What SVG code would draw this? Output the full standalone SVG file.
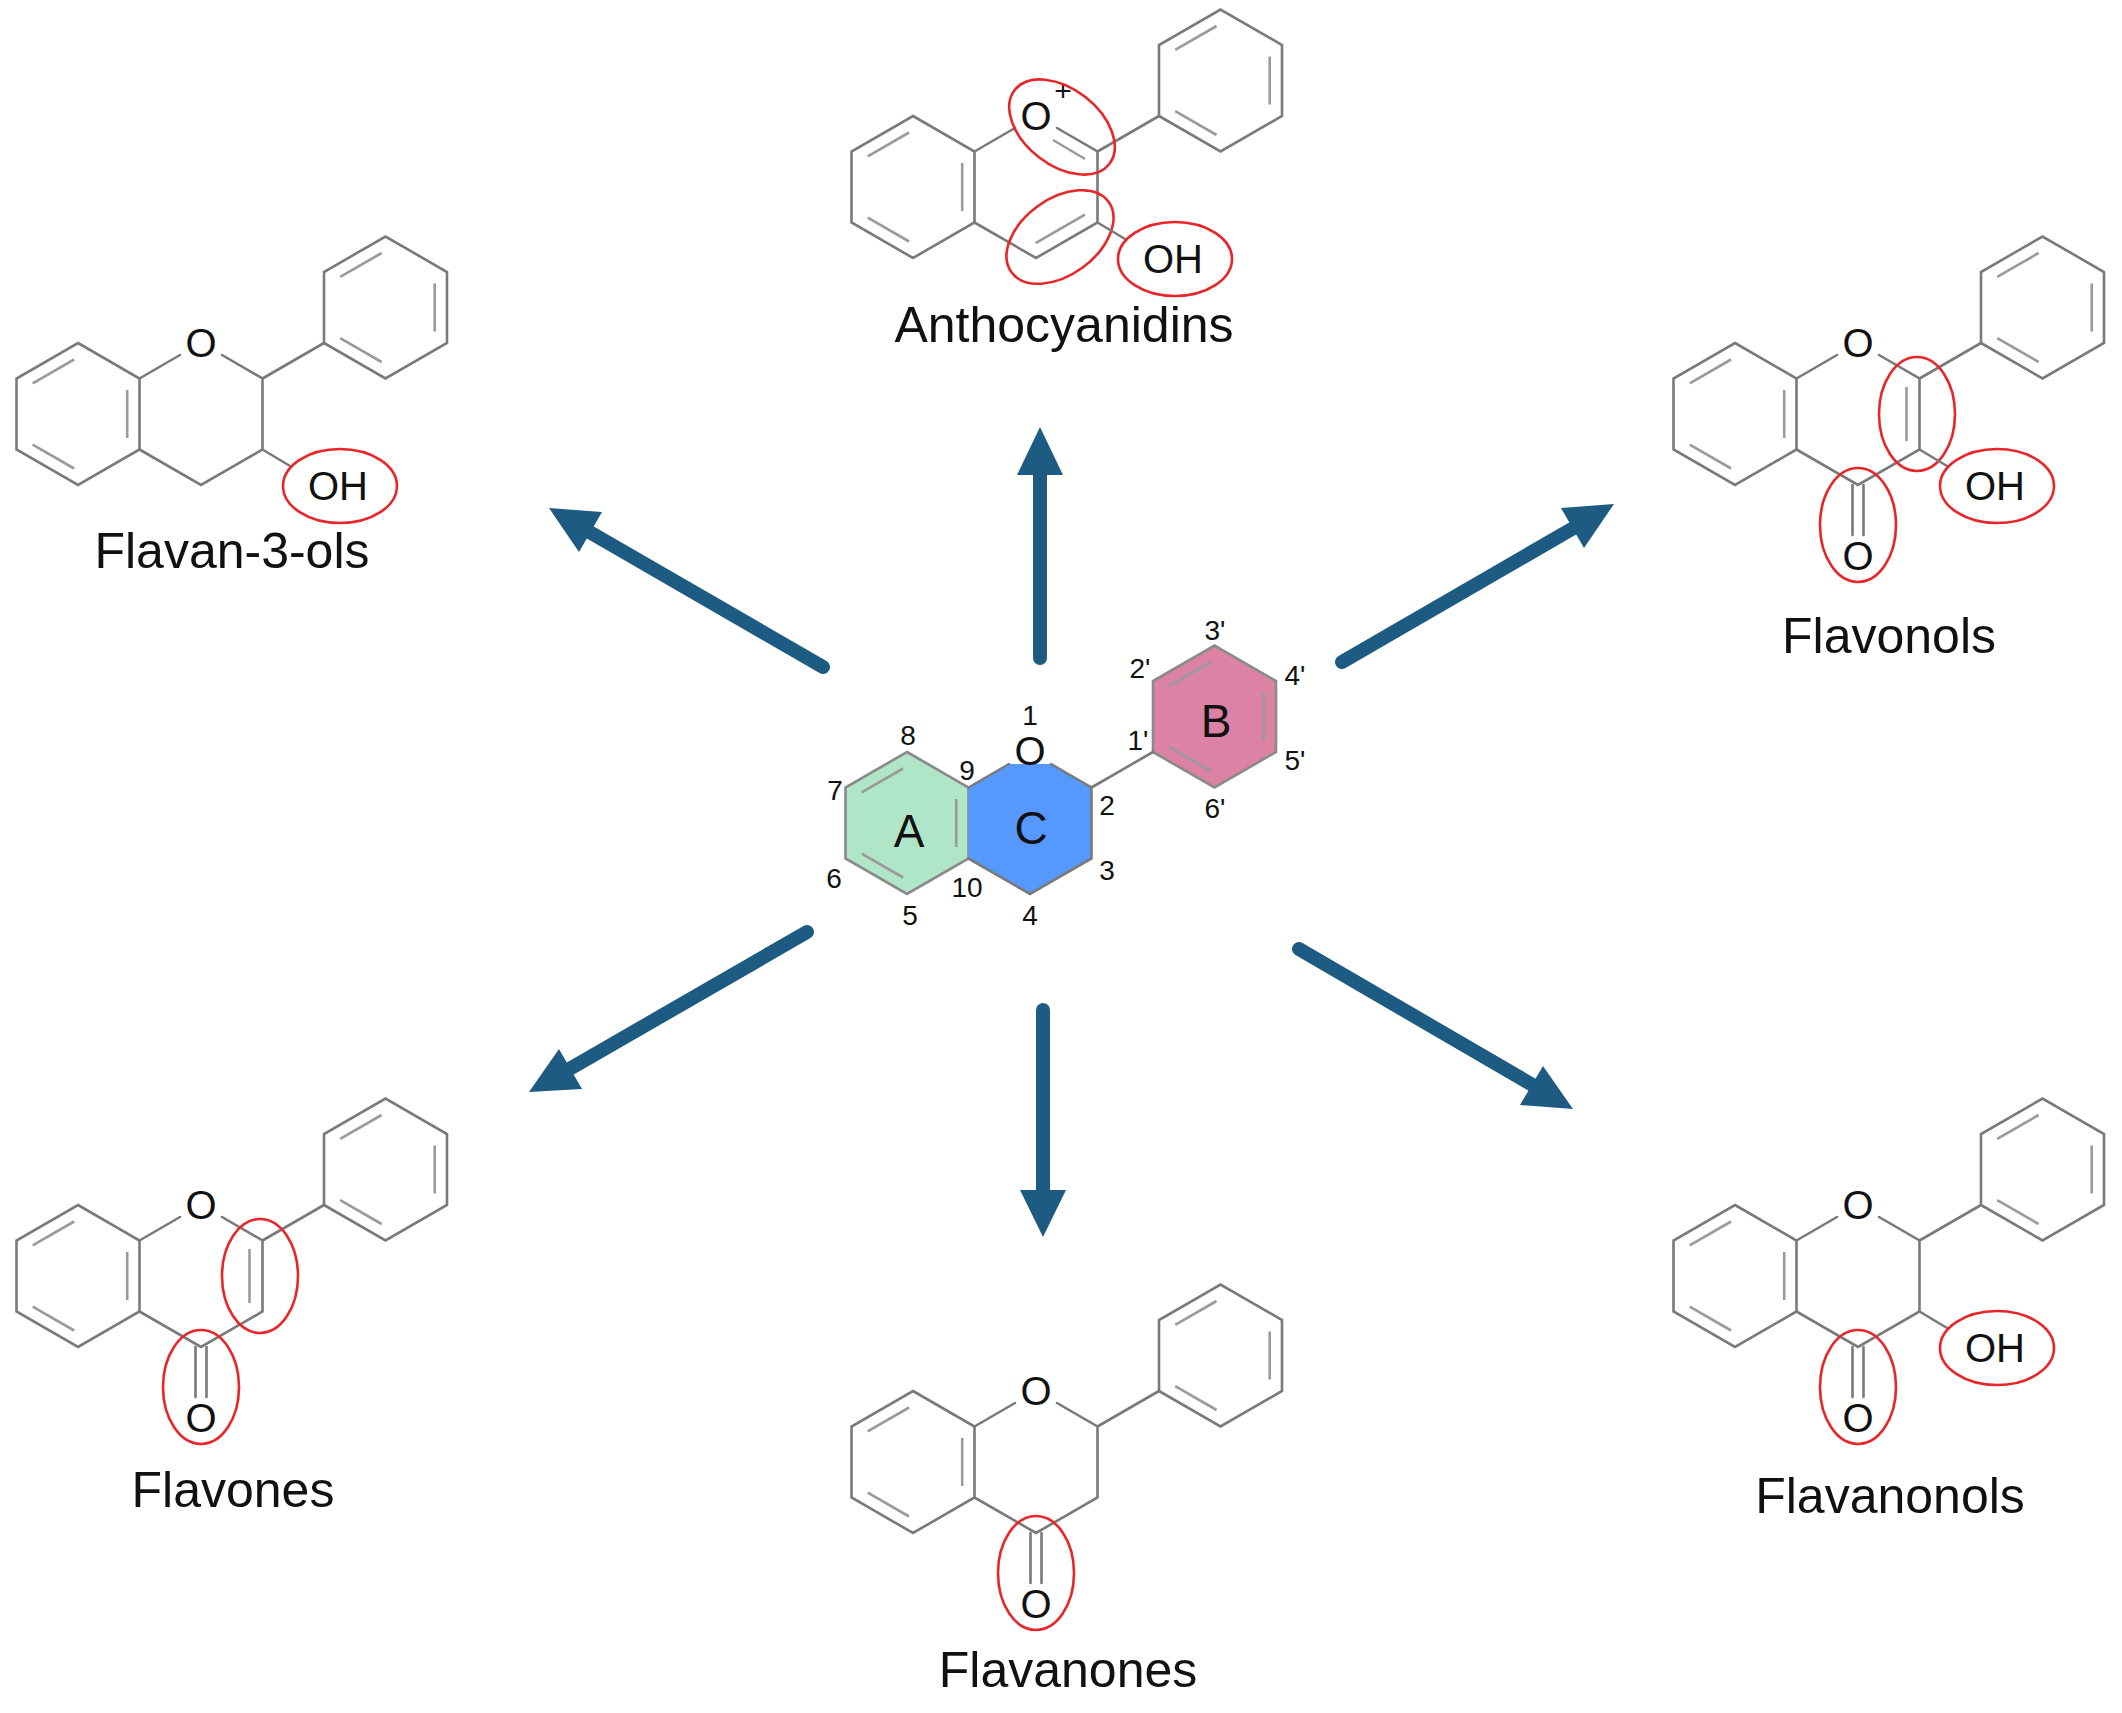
<svg xmlns="http://www.w3.org/2000/svg" xmlns:xlink="http://www.w3.org/1999/xlink" width="2122" height="1713" viewBox="0 0 2122 1713">
<style>
.b{fill:none;stroke:#7a7a7a;stroke-width:2.6;stroke-linecap:round}
.i{fill:none;stroke:#9a9a9a;stroke-width:2.6}
.t{font-family:"Liberation Sans",Arial,sans-serif;fill:#111}
.at{font-size:40px;text-anchor:middle}
.oh{font-size:40px}
.nm{font-size:50px;text-anchor:middle}
.num{font-size:28px;text-anchor:middle}
.big{font-size:46px;text-anchor:middle}
.r{fill:none;stroke:#e8262a;stroke-width:2.6}
.ar{stroke:#1e5b82;stroke-width:14;stroke-linecap:round;fill:none}
.ah{fill:#1e5b82}
</style>
<defs>
<g id="core">
<path class="b" d="M0,-71 L61.5,-35.5 L61.5,35.5 L0,71 L-61.5,35.5 L-61.5,-35.5 Z"/>
<path class="b" d="M246,-71 L307.5,-35.5 L369,-71 L369,-142 L307.5,-177.5 L246,-142 Z"/>
<path class="i" d="M-3.9,-54.5 L-45.3,-30.7 M-45.3,30.7 L-3.9,54.5 M49.2,-23.9 L49.2,23.9 M303.6,-161 L262.2,-137.2 M262.2,-75.8 L303.6,-52 M356.7,-130.4 L356.7,-82.6"/>
<path class="b" d="M184.5,-35.5 L246,-71 M61.5,-35.5 L102,-59 M144,-59 L184.5,-35.5 L184.5,35.5 L123,71 L61.5,35.5"/>
<text class="t at" x="123" y="-57">O</text>
</g>
<g id="co">
<path class="b" d="M117.5,71 L117.5,121 M128.5,71 L128.5,121"/>
<text class="t at" x="123" y="156">O</text>
<ellipse class="r" cx="123" cy="111" rx="38" ry="57"/>
</g>
<g id="oh">
<path class="b" d="M184.5,35.5 L212,52"/>
<text class="t oh" x="230" y="86">OH</text>
<ellipse class="r" cx="262" cy="72" rx="57" ry="37"/>
</g>
<g id="c23">
<path class="i" d="M171.5,-27 L171.5,27"/>
<ellipse class="r" cx="182" cy="0" rx="38" ry="57"/>
</g>
</defs>

<g id="connectors">
<line class="ar" x1="1040" y1="658" x2="1040" y2="470"/><polygon class="ah" points="1040,427 1017,475 1063,475"/>
<line class="ar" x1="823" y1="667" x2="586" y2="530"/><polygon class="ah" points="549,508 602,512 579,552"/>
<line class="ar" x1="1342" y1="662" x2="1577" y2="526"/><polygon class="ah" points="1614,504 1584,548 1561,508"/>
<line class="ar" x1="807" y1="932" x2="566" y2="1071"/><polygon class="ah" points="529,1092 559,1049 582,1089"/>
<line class="ar" x1="1043" y1="1010" x2="1043" y2="1195"/><polygon class="ah" points="1043,1237 1020,1190 1066,1190"/>
<line class="ar" x1="1299" y1="949" x2="1536" y2="1087"/><polygon class="ah" points="1573,1109 1520,1105 1543,1066"/>
</g>

<g id="core-structure">
<g transform="translate(907,823)">
<path fill="#b0e6c8" stroke="#8a8a8a" stroke-width="2.6" d="M0,-71 L61.5,-35.5 L61.5,35.5 L0,71 L-61.5,35.5 L-61.5,-35.5 Z"/>
<path fill="#5599ff" d="M61.5,-35.5 L102,-59 L144,-59 L184.5,-35.5 L184.5,35.5 L123,71 L61.5,35.5 Z"/>
<path fill="#db82a5" stroke="#8a8a8a" stroke-width="2.6" d="M246,-71 L307.5,-35.5 L369,-71 L369,-142 L307.5,-177.5 L246,-142 Z"/>
<path class="i" d="M-3.9,-54.5 L-45.3,-30.7 M-45.3,30.7 L-3.9,54.5 M49.2,-23.9 L49.2,23.9 M303.6,-161 L262.2,-137.2 M262.2,-75.8 L303.6,-52 M356.7,-130.4 L356.7,-82.6"/>
<path class="b" d="M184.5,-35.5 L246,-71 M61.5,-35.5 L102,-59 M144,-59 L184.5,-35.5 L184.5,35.5 L123,71 L61.5,35.5"/>
<text class="t at" x="123" y="-58">O</text>
</g>
<g class="t num">
<text x="1030" y="725">1</text><text x="908" y="745">8</text><text x="967" y="780">9</text>
<text x="835" y="800">7</text><text x="834" y="888">6</text><text x="910" y="925">5</text>
<text x="967" y="897">10</text><text x="1030" y="925">4</text><text x="1107" y="880">3</text>
<text x="1107" y="815">2</text><text x="1138" y="750">1'</text><text x="1140" y="678">2'</text>
<text x="1215" y="640">3'</text><text x="1295" y="685">4'</text><text x="1295" y="770">5'</text>
<text x="1215" y="818">6'</text>
</g>
<text class="t big" x="909" y="847">A</text>
<text class="t big" x="1031" y="844">C</text>
<text class="t big" x="1216" y="737">B</text>
</g>

<g id="flavan-3-ols" transform="translate(78,414)">
<use href="#core"/><use href="#oh"/>
<text class="t nm" x="154" y="154">Flavan-3-ols</text>
</g>

<g id="anthocyanidins" transform="translate(913,187)">
<use href="#core"/>
<text class="t" x="150" y="-86" font-size="30" text-anchor="middle">+</text>
<path class="i" d="M140,-47 L172,-28 M171.9,27.7 L122.6,56.2"/>
<ellipse class="r" cx="0" cy="0" rx="60" ry="38" transform="translate(149,-60) rotate(38)"/>
<ellipse class="r" cx="0" cy="0" rx="60" ry="38" transform="translate(147,50) rotate(-36)"/>
<use href="#oh"/>
<text class="t nm" x="151" y="155">Anthocyanidins</text>
</g>

<g id="flavonols" transform="translate(1735,414)">
<use href="#core"/><use href="#co"/><use href="#c23"/><use href="#oh"/>
<text class="t nm" x="154" y="239">Flavonols</text>
</g>

<g id="flavones" transform="translate(78,1276)">
<use href="#core"/><use href="#co"/><use href="#c23"/>
<text class="t nm" x="155" y="231">Flavones</text>
</g>

<g id="flavanones" transform="translate(913,1462)">
<use href="#core"/><use href="#co"/>
<text class="t nm" x="155" y="225">Flavanones</text>
</g>

<g id="flavanonols" transform="translate(1735,1276)">
<use href="#core"/><use href="#co"/><use href="#oh"/>
<text class="t nm" x="155" y="237">Flavanonols</text>
</g>
</svg>
